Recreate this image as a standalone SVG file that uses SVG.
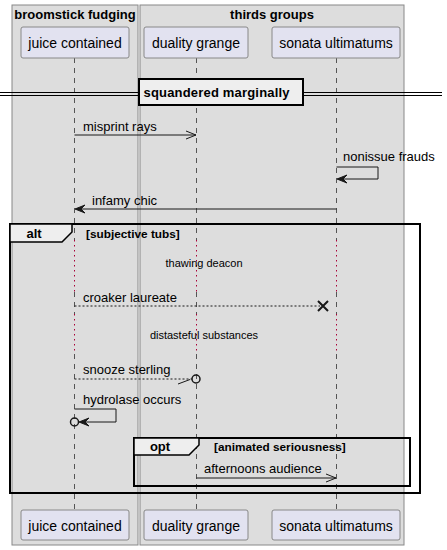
<svg xmlns="http://www.w3.org/2000/svg" width="447" height="550" viewBox="0 0 447 550">
<style>
.grp{fill:#DDDDDD;stroke:#888888;stroke-width:1}
.gt{font-family:"Liberation Sans",Arial,sans-serif;font-size:13px;font-weight:bold;fill:#000}
.part{fill:#E2E2F0;stroke:#888888;stroke-width:1}
.pt{font-family:"Liberation Sans",Arial,sans-serif;font-size:14px;fill:#000;text-anchor:middle}
.life{stroke:#555555;stroke-width:1;stroke-dasharray:5 5;fill:none}
.delay{stroke:#A80036;stroke-width:1;stroke-dasharray:1.5 3.5;fill:none}
.msg{stroke:#181818;stroke-width:1;fill:none}
.dash{stroke-dasharray:2 2}
.ml{font-family:"Liberation Sans",Arial,sans-serif;font-size:13px;fill:#000}
.dl{font-family:"Liberation Sans",Arial,sans-serif;font-size:11px;fill:#000;text-anchor:middle}
.frame{fill:none;stroke:#000;stroke-width:2}
.tab{fill:#EEEEEE;stroke:#000;stroke-width:1.5}
.fl{font-family:"Liberation Sans",Arial,sans-serif;font-size:13px;font-weight:bold;fill:#000;text-anchor:middle}
.fc{font-family:"Liberation Sans",Arial,sans-serif;font-size:11.8px;font-weight:bold;fill:#000}
.head{fill:#181818;stroke:#181818;stroke-width:1}
</style>
<g id="box-broomstick">
<rect class="grp" x="12" y="5" width="126" height="540"/>
<text class="gt" x="75" y="19" text-anchor="middle">broomstick fudging</text>
</g>
<g id="box-thirds">
<rect class="grp" x="140" y="5" width="264" height="540"/>
<text class="gt" x="272" y="19" text-anchor="middle">thirds groups</text>
</g>
<g id="lifelines">
<path class="life" d="M74.5,58 V240 M74.5,292 V314 M74.5,354 V510"/>
<path class="delay" d="M74.5,240 V292 M74.5,314 V354"/>
<path class="life" d="M196.5,58 V240 M196.5,292 V314 M196.5,354 V510"/>
<path class="delay" d="M196.5,240 V292 M196.5,314 V354"/>
<path class="life" d="M336.5,58 V240 M336.5,292 V314 M336.5,354 V510"/>
<path class="delay" d="M336.5,240 V292 M336.5,314 V354"/>
</g>
<g id="juice-contained">
<rect class="part" x="21" y="27" width="108" height="31" rx="2"/>
<text class="pt" x="75" y="48">juice contained</text>
<rect class="part" x="21" y="510" width="108" height="30" rx="2"/>
<text class="pt" x="75" y="531">juice contained</text>
</g>
<g id="duality-grange">
<rect class="part" x="144" y="27" width="104" height="31" rx="2"/>
<text class="pt" x="196" y="48">duality grange</text>
<rect class="part" x="144" y="510" width="104" height="30" rx="2"/>
<text class="pt" x="196" y="531">duality grange</text>
</g>
<g id="sonata-ultimatums">
<rect class="part" x="272" y="27" width="128" height="31" rx="2"/>
<text class="pt" x="336" y="48">sonata ultimatums</text>
<rect class="part" x="272" y="510" width="128" height="30" rx="2"/>
<text class="pt" x="336" y="531">sonata ultimatums</text>
</g>
<g id="divider-squandered">
<line x1="0" y1="92.5" x2="442" y2="92.5" stroke="#000" stroke-width="1"/>
<line x1="0" y1="95.5" x2="442" y2="95.5" stroke="#000" stroke-width="1"/>
<rect x="139" y="79" width="164" height="26" fill="#EEEEEE" stroke="#000" stroke-width="2"/>
<text class="gt" x="143.5" y="97" textLength="146" lengthAdjust="spacing">squandered marginally</text>
</g>
<g id="fragment-alt">
<rect class="frame" x="10" y="224" width="410" height="269"/>
<path class="tab" d="M10,224 H72 V232 L62,242 H10 Z"/>
<text class="fl" x="34" y="238">alt</text>
<text class="fc" x="86" y="238">[subjective tubs]</text>
</g>
<g id="fragment-opt">
<rect class="frame" x="134" y="438" width="276" height="48"/>
<path class="tab" d="M134,438 H199 V445 L189,455 H134 Z"/>
<text class="fl" x="160" y="451">opt</text>
<text class="fc" x="214" y="451">[animated seriousness]</text>
</g>
<g id="connectors">
<line class="msg" x1="74.5" y1="135" x2="196" y2="135"/>
<path class="msg" d="M186,131 L196,135 L186,139"/>
<text class="ml" x="83" y="131">misprint rays</text>

<path class="msg" d="M336.5,167 H378 V179 H338"/>
<polygon class="head" points="337,179 347,175 343,179 347,183"/>
<text class="ml" x="343" y="161">nonissue frauds</text>

<line class="msg" x1="336.5" y1="209" x2="77" y2="209"/>
<polygon class="head" points="75,209 85,205 81,209 85,213"/>
<text class="ml" x="92" y="205">infamy chic</text>

<text class="dl" x="204" y="267">thawing deacon</text>

<line class="msg dash" x1="74.5" y1="306" x2="320" y2="306"/>
<path d="M318,301 L328,311 M328,301 L318,311" stroke="#181818" stroke-width="2" fill="none"/>
<text class="ml" x="83" y="302">croaker laureate</text>

<text class="dl" x="204" y="339">distasteful substances</text>

<line class="msg dash" x1="74.5" y1="379" x2="192" y2="379"/>
<line class="msg" x1="178" y1="384" x2="190" y2="379.5"/>
<circle cx="196" cy="379" r="4" fill="none" stroke="#181818" stroke-width="1.5"/>
<text class="ml" x="83" y="374">snooze sterling</text>

<path class="msg" d="M74.5,409 H116 V422 H81"/>
<polygon class="head" points="79,422 89,418 85,422 89,426"/>
<circle cx="74.5" cy="422" r="4" fill="none" stroke="#181818" stroke-width="1.5"/>
<text class="ml" x="83" y="404">hydrolase occurs</text>

<line class="msg" x1="196.5" y1="478" x2="336" y2="478"/>
<path class="msg" d="M326,474 L336,478 L326,482"/>
<text class="ml" x="204" y="473">afternoons audience</text>
</g>
</svg>
